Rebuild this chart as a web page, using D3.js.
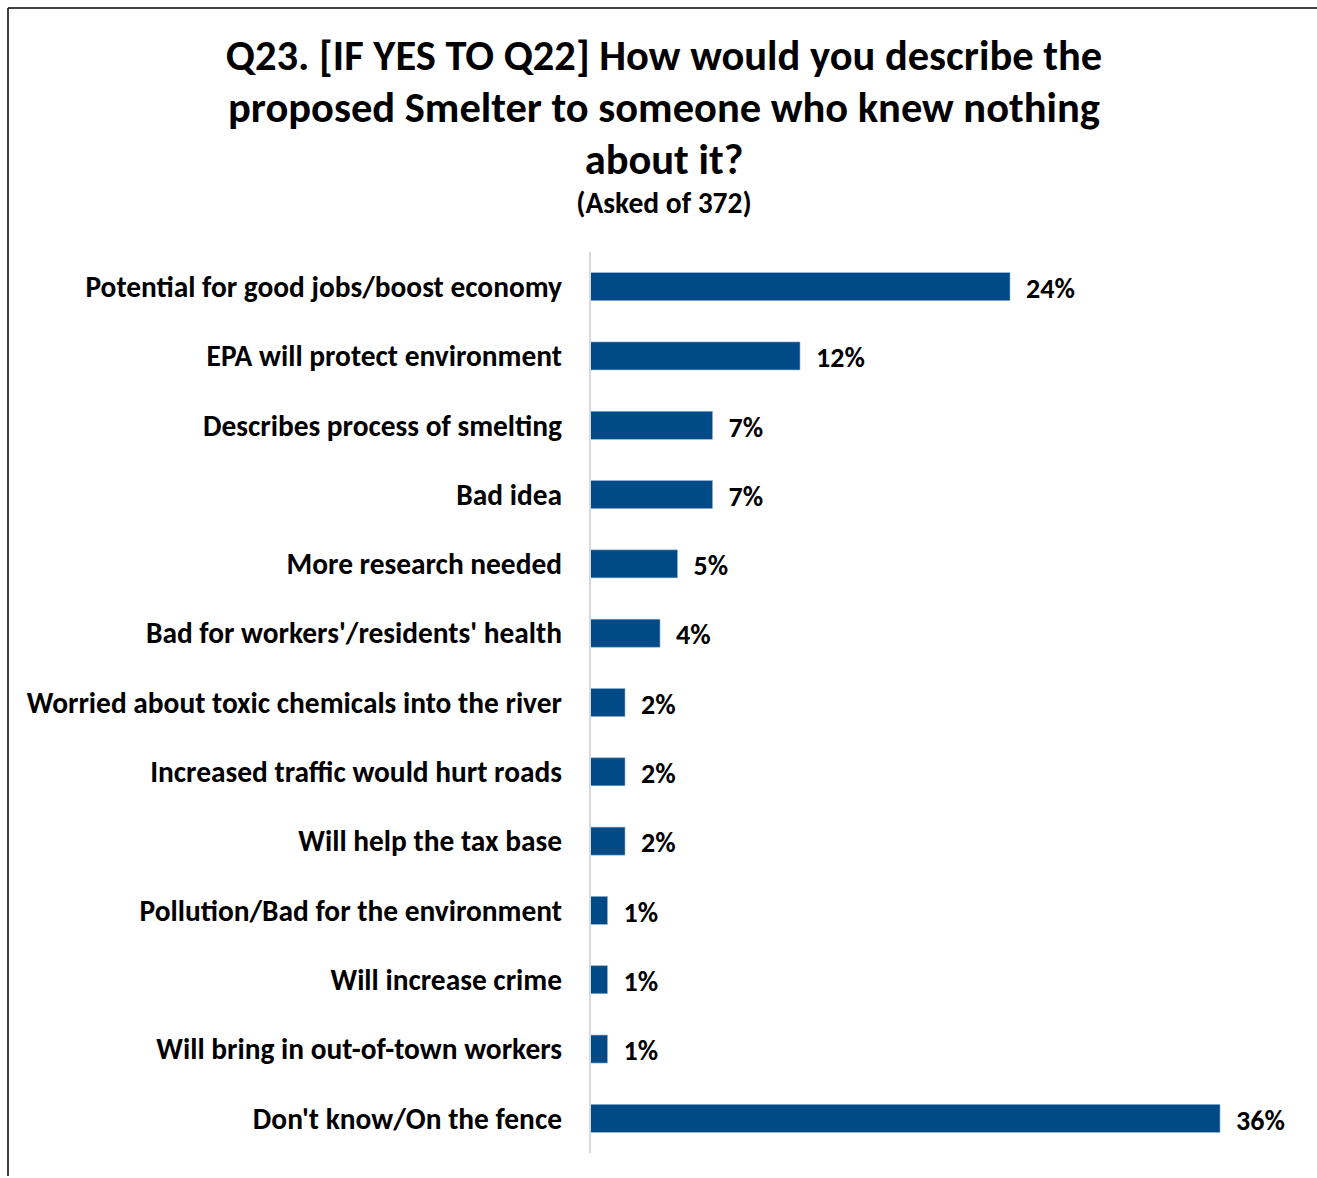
<!DOCTYPE html>
<html><head><meta charset="utf-8">
<script src="https://cdnjs.cloudflare.com/ajax/libs/d3/7.8.5/d3.min.js"></script>
<style>
html,body{margin:0;padding:0;background:#fff;}
svg{display:block;font-family:Carlito,Calibri,Lato,"Open Sans",sans-serif;font-weight:bold;}
</style></head>
<body>
<script>
const titleLines = ["Q23. [IF YES TO Q22] How would you describe the", "proposed Smelter to someone who knew nothing", "about it?"];
const subtitle = "(Asked of 372)";
const categories = [
  "Potential for good jobs/boost economy",
  "EPA will protect environment",
  "Describes process of smelting",
  "Bad idea",
  "More research needed",
  "Bad for workers'/residents' health",
  "Worried about toxic chemicals into the river",
  "Increased traffic would hurt roads",
  "Will help the tax base",
  "Pollution/Bad for the environment",
  "Will increase crime",
  "Will bring in out-of-town workers",
  "Don't know/On the fence"
];
const values = [24, 12, 7, 7, 5, 4, 2, 2, 2, 1, 1, 1, 36];

const W = 1317, H = 1178;
const svg = d3.select("body").append("svg").attr("width", W).attr("height", H);

// frame (top and left edges)
svg.append("line").attr("x1", 8).attr("x2", W).attr("y1", 8).attr("y2", 8).attr("stroke", "#000").attr("stroke-width", 1.5);
svg.append("line").attr("x1", 8).attr("x2", 8).attr("y1", 8).attr("y2", 1176).attr("stroke", "#000").attr("stroke-width", 1.5);

// title
const title = svg.append("text").attr("text-anchor", "middle").attr("font-size", 42.5).attr("fill", "#000");
titleLines.forEach((t, i) => {
  title.append("tspan").attr("x", 664).attr("y", 69.5 + i * 52).text(t);
});
svg.append("text").attr("x", 664).attr("y", 213).attr("text-anchor", "middle")
  .attr("font-size", 29.5).attr("fill", "#000").text(subtitle);

const x0 = 590;
const x = d3.scaleLinear().domain([0, 36]).range([x0, 1220]);
const y = d3.scaleBand().domain(categories).range([252, 1153]).paddingInner(0.596).paddingOuter(0.298);

svg.append("g").selectAll("rect").data(categories).join("rect")
  .attr("x", x(0)).attr("y", d => y(d))
  .attr("width", (d, i) => x(values[i]) - x(0))
  .attr("height", y.bandwidth())
  .attr("fill", "#004B87").attr("stroke", "#8fb1d3").attr("stroke-width", 0.6);

// axis line
svg.append("line").attr("x1", x0).attr("x2", x0).attr("y1", 252).attr("y2", 1153)
  .attr("stroke", "#d9d9d9").attr("stroke-width", 2);

// category labels
svg.append("g").selectAll("text").data(categories).join("text")
  .attr("x", 562).attr("y", d => y(d) + y.bandwidth() / 2)
  .attr("dy", "0.35em").attr("text-anchor", "end")
  .attr("font-size", 29.4).attr("fill", "#000").text(d => d);

// value labels
svg.append("g").selectAll("text").data(categories).join("text")
  .attr("x", (d, i) => x(values[i]) + 16).attr("y", d => y(d) + y.bandwidth() / 2 + 1.5)
  .attr("dy", "0.35em").attr("text-anchor", "start")
  .attr("font-size", 28).attr("fill", "#000").text((d, i) => values[i] + "%");
</script>
</body></html>
